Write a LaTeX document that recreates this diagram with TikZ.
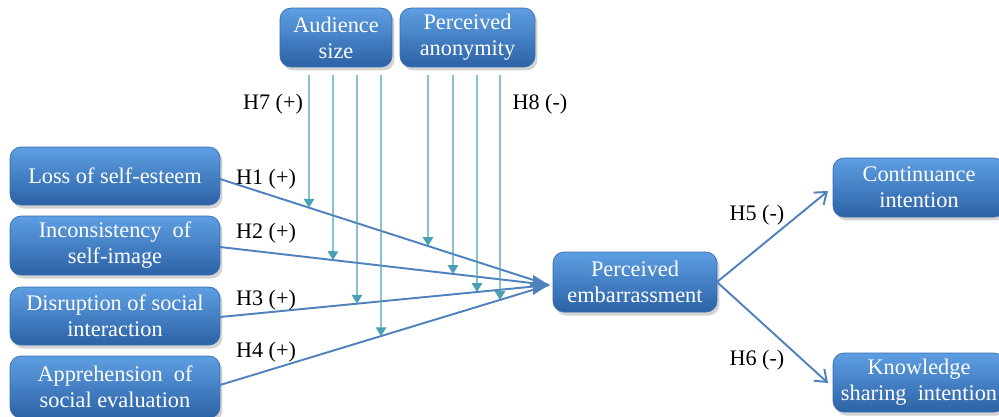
\documentclass[tikz,border=0pt]{standalone}
\usepackage{fontspec}
\setmainfont{Liberation Serif}
\usetikzlibrary{arrows.meta,shadows}
\definecolor{boxtop}{HTML}{5E9EE2}
\definecolor{boxbot}{HTML}{2C62A6}
\definecolor{boxedge}{HTML}{3A6DB0}
\definecolor{mainline}{HTML}{4F81BD}
\definecolor{modline}{HTML}{4AA0B4}
\begin{document}
\begin{tikzpicture}[x=0.02cm,y=-0.02cm,
  box/.style={draw=boxedge, line width=0.4pt, rounded corners=0.22cm,
    top color=boxtop, bottom color=boxbot, text=white, align=center,
    font=\fontsize{12.7}{14.8}\selectfont, inner sep=0pt,
    drop shadow={shadow xshift=0.05cm, shadow yshift=-0.07cm, opacity=0.35}},
  hyp/.style={font=\fontsize{12.6}{14}\selectfont, text=black, inner sep=0pt},
  main/.style={draw=mainline, line width=1.1pt},
  mainarrow/.style={main, -{Triangle[length=9pt,width=11pt]}},
  sidearrow/.style={main, -{Straight Barb[length=6pt,width=9pt]}},
  mod/.style={draw=modline, line width=0.6pt, -{Triangle[length=5pt,width=6pt]}}]
\useasboundingbox (0,0) rectangle (999,416);
% boxes
\node[box, minimum width=4.2cm, minimum height=1.16cm] (loss) at (115,176) {Loss of self-esteem};
\node[box, minimum width=4.2cm, minimum height=1.18cm] (incon) at (115,245.5) {Inconsistency~~of\\self-image};
\node[box, minimum width=4.2cm, minimum height=1.16cm] (disr) at (115,316) {Disruption of social\\interaction};
\node[box, minimum width=4.2cm, minimum height=1.24cm] (appr) at (115,387) {Apprehension~~of\\social evaluation};
\node[box, minimum width=2.24cm, minimum height=1.18cm] (aud) at (336,37.5) {Audience\\size};
\node[box, minimum width=2.7cm, minimum height=1.18cm] (anon) at (467.5,37.5) {Perceived\\anonymity};
\node[box, minimum width=3.28cm, minimum height=1.2cm] (emb) at (635,282) {Perceived\\embarrassment};
\node[box, minimum width=3.44cm, minimum height=1.18cm] (cont) at (919,187.5) {Continuance\\intention};
\node[box, minimum width=3.44cm, minimum height=1.18cm] (know) at (919,382.5) {Knowledge\\sharing~~intention};
% convergence point
\coordinate (tip) at (549,285);
\coordinate (pre) at (530,285);
\coordinate (s1) at (220,179);
\coordinate (s2) at (220,247);
\coordinate (s3) at (220,317);
\coordinate (s4) at (220,385);
\draw[main] (s1) -- (tip);
\draw[main] (s2) -- (tip);
\draw[main] (s3) -- (tip);
\draw[main] (s4) -- (tip);
\draw[mainarrow] (pre) -- (tip);
% moderator lines
\coordinate (a1t) at (309,75); \coordinate (a1b) at (309,416);
\coordinate (a2t) at (333,75); \coordinate (a2b) at (333,416);
\coordinate (a3t) at (357,75); \coordinate (a3b) at (357,416);
\coordinate (a4t) at (381,75); \coordinate (a4b) at (381,416);
\coordinate (p1t) at (428,75); \coordinate (p1b) at (428,416);
\coordinate (p2t) at (453,75); \coordinate (p2b) at (453,416);
\coordinate (p3t) at (477,75); \coordinate (p3b) at (477,416);
\coordinate (p4t) at (500,75); \coordinate (p4b) at (500,416);
\draw[mod] (a1t) -- (intersection of s1--tip and a1t--a1b);
\draw[mod] (a2t) -- (intersection of s2--tip and a2t--a2b);
\draw[mod] (a3t) -- (intersection of s3--tip and a3t--a3b);
\draw[mod] (a4t) -- (intersection of s4--tip and a4t--a4b);
\draw[mod] (p1t) -- (intersection of s1--tip and p1t--p1b);
\draw[mod] (p2t) -- (intersection of s2--tip and p2t--p2b);
\draw[mod] (p3t) -- (intersection of s3--tip and p3t--p3b);
\draw[mod] (p4t) -- (intersection of s4--tip and p4t--p4b);
% outcome arrows
\coordinate (e) at (717,282);
\coordinate (c) at (828,191);
\coordinate (k) at (828,383);
\draw[sidearrow] (e) -- (c);
\draw[sidearrow] (e) -- (k);
% labels
\node[hyp] (h7) at (273,104) {H7 (+)};
\node[hyp] (h8) at (540,104) {H8 (-)};
\node[hyp] (h1) at (266,179) {H1 (+)};
\node[hyp] (h2) at (266,233) {H2 (+)};
\node[hyp] (h3) at (266,300) {H3 (+)};
\node[hyp] (h4) at (266,352) {H4 (+)};
\node[hyp] (h5) at (757,215) {H5 (-)};
\node[hyp] (h6) at (757,360) {H6 (-)};
\end{tikzpicture}
\end{document}
